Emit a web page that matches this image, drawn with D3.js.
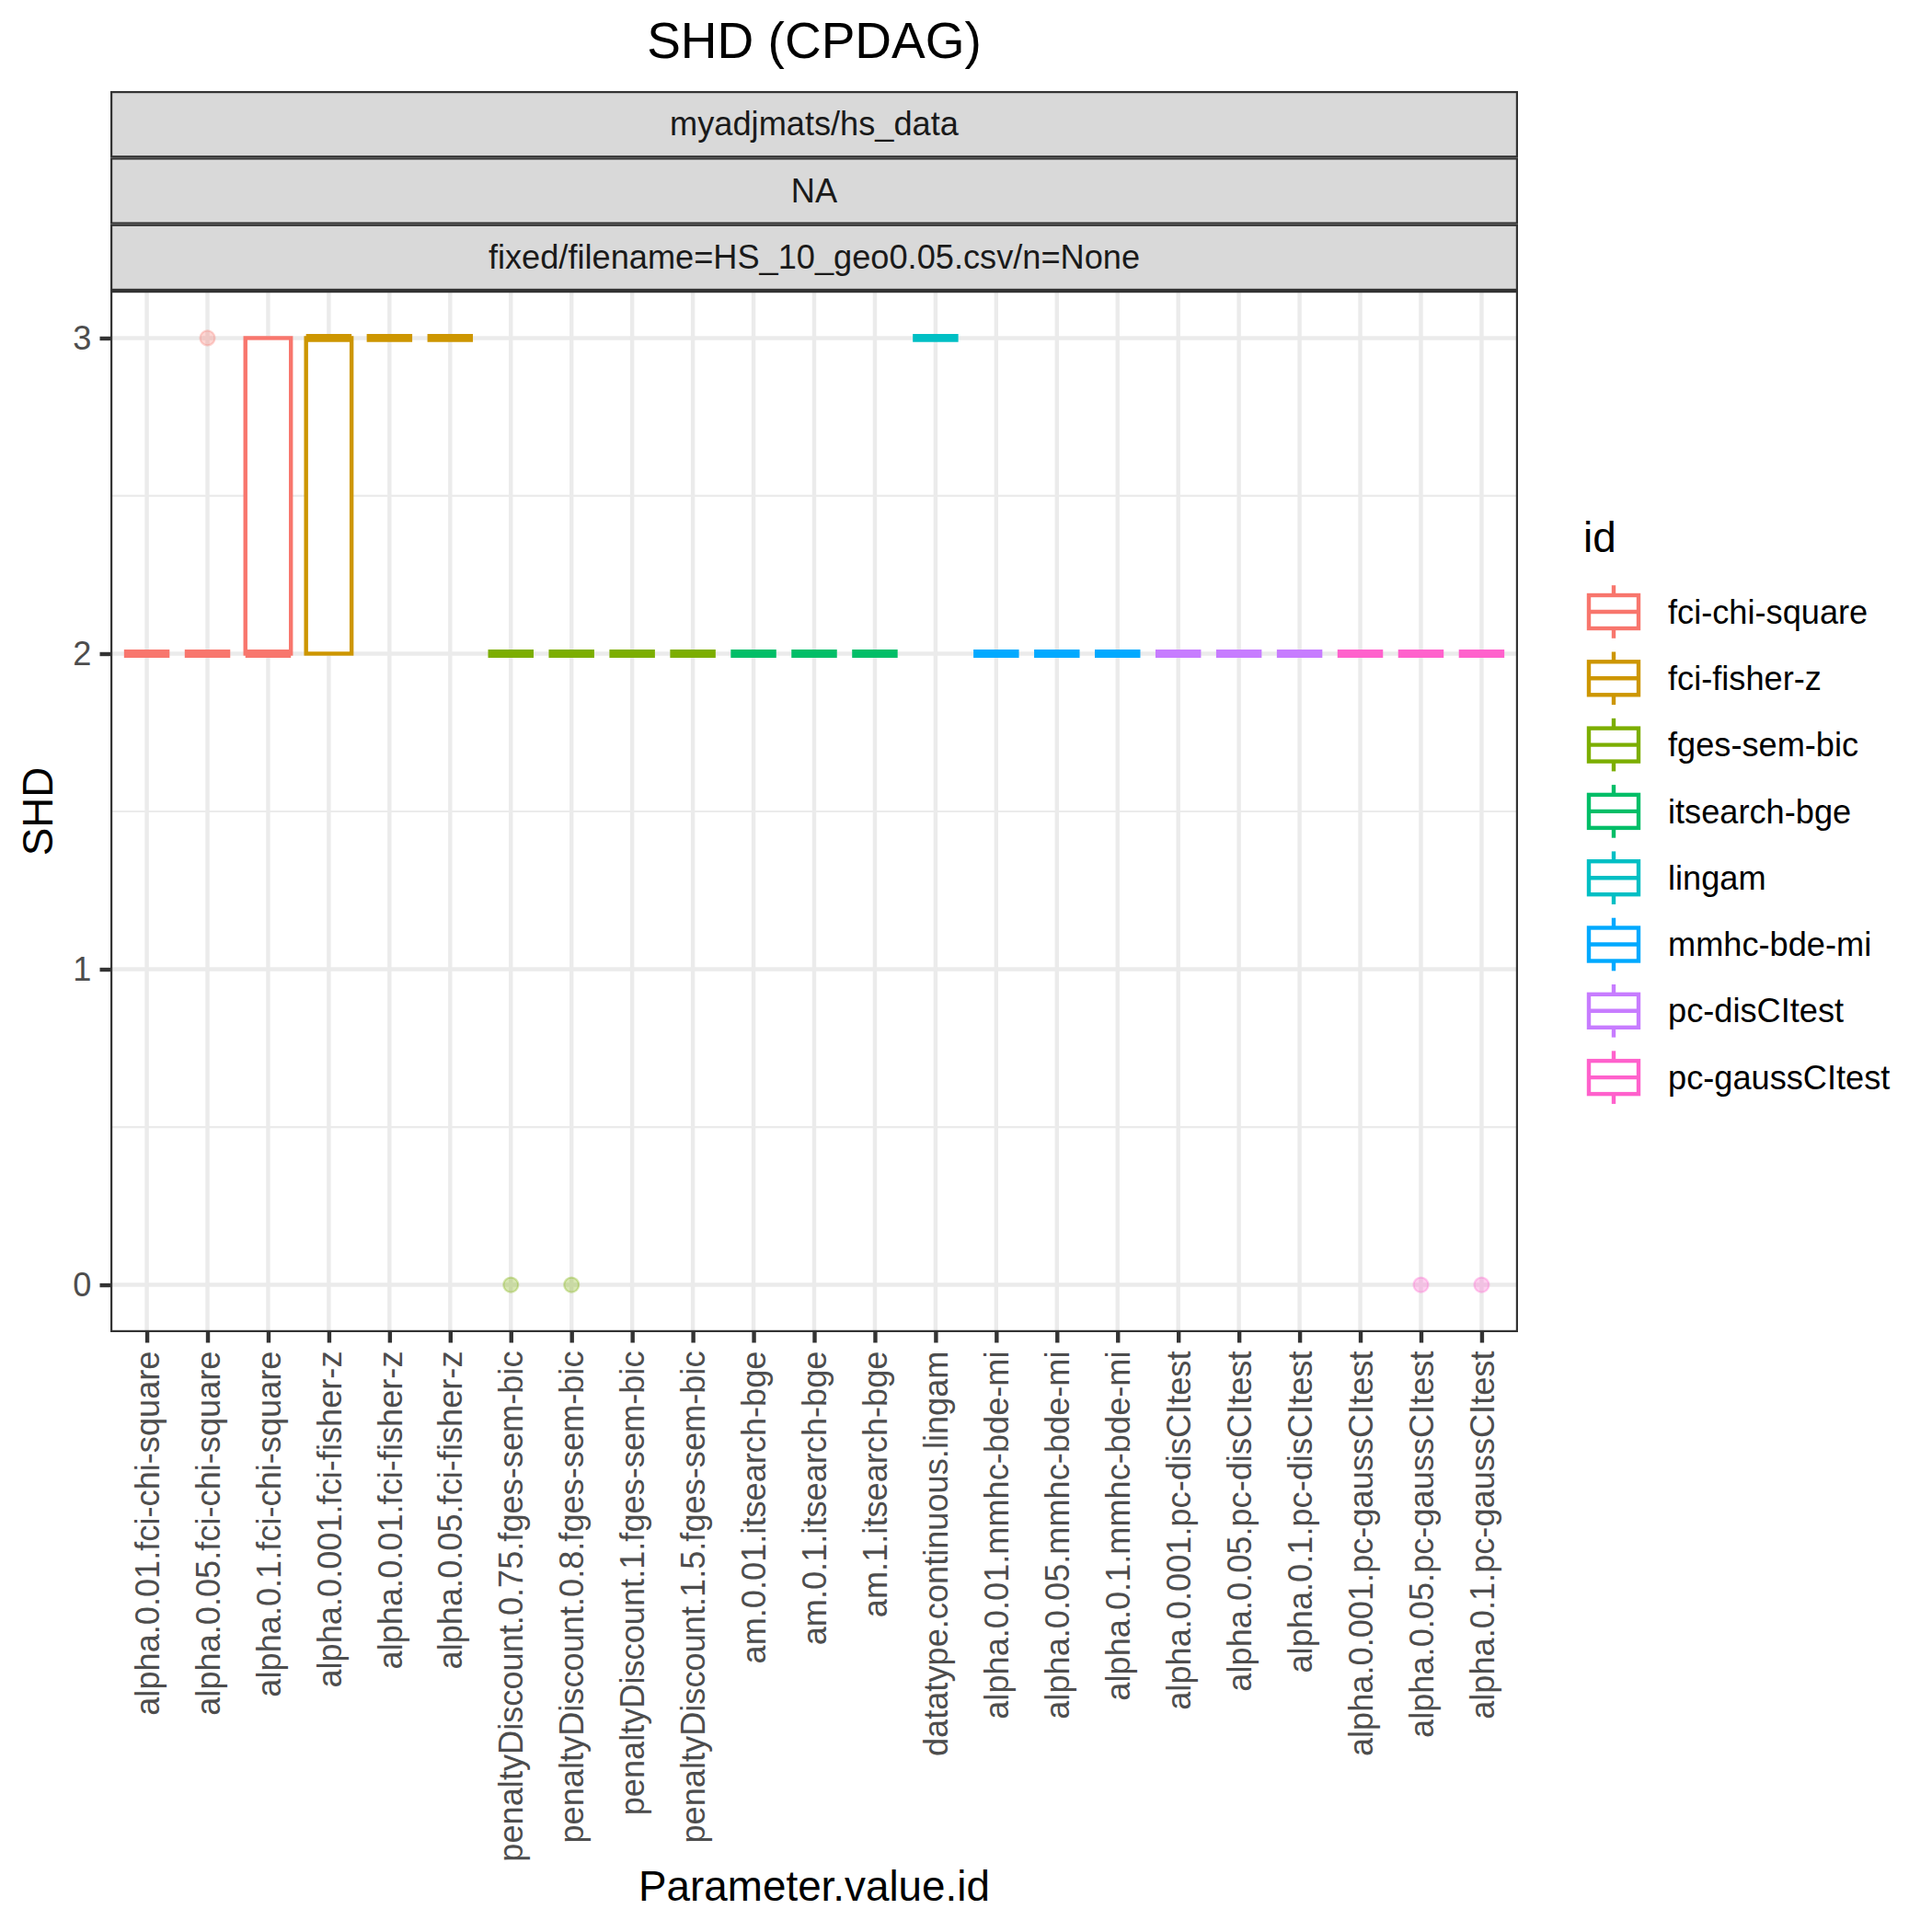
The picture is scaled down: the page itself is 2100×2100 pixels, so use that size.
<!DOCTYPE html>
<html>
<head>
<meta charset="utf-8">
<script src="https://cdn.jsdelivr.net/npm/d3@7"></script>
<style>
body { margin: 0; background: #fff; }
text { font-family: "Liberation Sans", Arial, Helvetica, sans-serif; }
</style>
</head>
<body>
<div id="chart"></div>
<script>
// Datos

const categories = [
    "alpha.0.01.fci-chi-square", "alpha.0.05.fci-chi-square", "alpha.0.1.fci-chi-square",
    "alpha.0.001.fci-fisher-z", "alpha.0.01.fci-fisher-z", "alpha.0.05.fci-fisher-z",
    "penaltyDiscount.0.75.fges-sem-bic", "penaltyDiscount.0.8.fges-sem-bic",
    "penaltyDiscount.1.fges-sem-bic", "penaltyDiscount.1.5.fges-sem-bic",
    "am.0.01.itsearch-bge", "am.0.1.itsearch-bge", "am.1.itsearch-bge",
    "datatype.continuous.lingam",
    "alpha.0.01.mmhc-bde-mi", "alpha.0.05.mmhc-bde-mi", "alpha.0.1.mmhc-bde-mi",
    "alpha.0.001.pc-disCItest", "alpha.0.05.pc-disCItest", "alpha.0.1.pc-disCItest",
    "alpha.0.001.pc-gaussCItest", "alpha.0.05.pc-gaussCItest", "alpha.0.1.pc-gaussCItest"
]
const catIds = [
    "fci-chi-square", "fci-chi-square", "fci-chi-square",
    "fci-fisher-z", "fci-fisher-z", "fci-fisher-z",
    "fges-sem-bic", "fges-sem-bic", "fges-sem-bic", "fges-sem-bic",
    "itsearch-bge", "itsearch-bge", "itsearch-bge",
    "lingam",
    "mmhc-bde-mi", "mmhc-bde-mi", "mmhc-bde-mi",
    "pc-disCItest", "pc-disCItest", "pc-disCItest",
    "pc-gaussCItest", "pc-gaussCItest", "pc-gaussCItest"
]
const whiskerLow  = [2, 2, 2, 2, 3, 3, 2, 2, 2, 2, 2, 2, 2, 3, 2, 2, 2, 2, 2, 2, 2, 2, 2]
const boxLow      = [2, 2, 2, 2, 3, 3, 2, 2, 2, 2, 2, 2, 2, 3, 2, 2, 2, 2, 2, 2, 2, 2, 2]
const medians     = [2, 2, 2, 3, 3, 3, 2, 2, 2, 2, 2, 2, 2, 3, 2, 2, 2, 2, 2, 2, 2, 2, 2]
const boxHigh     = [2, 2, 3, 3, 3, 3, 2, 2, 2, 2, 2, 2, 2, 3, 2, 2, 2, 2, 2, 2, 2, 2, 2]
const whiskerHigh = [2, 2, 3, 3, 3, 3, 2, 2, 2, 2, 2, 2, 2, 3, 2, 2, 2, 2, 2, 2, 2, 2, 2]
const outliers    = [[], [3], [], [], [], [], [0], [0], [], [], [], [], [], [], [], [], [], [], [], [], [], [0], [0]]

const idLevels = ["fci-chi-square", "fci-fisher-z", "fges-sem-bic", "itsearch-bge",
                  "lingam", "mmhc-bde-mi", "pc-disCItest", "pc-gaussCItest"]
const idColors = ["#F8766D", "#CD9600", "#7CAE00", "#00BE67", "#00BFC4", "#00A9FF", "#C77CFF", "#FF61CC"]

const yTicks = [0, 1, 2, 3]
const yMinor = [0.5, 1.5, 2.5]
const stripLabels = ["myadjmats/hs_data", "NA", "fixed/filename=HS_10_geo0.05.csv/n=None"]

// Constantes

const width = 2100
const height = 2100
const panel = {left: 120, right: 1650, top: 316, bottom: 1448}
const stripTop = 99
const stripH = (panel.top - stripTop) / 3
const lw = 4.4
const tickLen = 11.5
const tickPad = 9
const smallFont = "36.2px"
const bigFont = "45.8px"

const svg = d3.select("#chart").append("svg").attr("width", width).attr("height", height)

// Escalas

const x = d3.scalePoint().domain(categories).range([panel.left, panel.right]).padding(0.6)
const y = d3.scaleLinear().domain([-0.15, 3.15]).range([panel.bottom, panel.top])
const color = d3.scaleOrdinal().domain(idLevels).range(idColors)

// Rejilla

const gridGroup = svg.append("g").attr("id", "gridGroup")
gridGroup.selectAll("line.minor").data(yMinor).join("line")
    .attr("class", "minor")
    .attr("x1", panel.left).attr("x2", panel.right)
    .attr("y1", d => y(d)).attr("y2", d => y(d))
    .attr("stroke", "#EBEBEB").attr("stroke-width", lw / 2)
gridGroup.selectAll("line.majorY").data(yTicks).join("line")
    .attr("class", "majorY")
    .attr("x1", panel.left).attr("x2", panel.right)
    .attr("y1", d => y(d)).attr("y2", d => y(d))
    .attr("stroke", "#EBEBEB").attr("stroke-width", lw)
gridGroup.selectAll("line.majorX").data(categories).join("line")
    .attr("class", "majorX")
    .attr("x1", d => x(d)).attr("x2", d => x(d))
    .attr("y1", panel.top).attr("y2", panel.bottom)
    .attr("stroke", "#EBEBEB").attr("stroke-width", lw)

// Cajas

const boxes = categories.map((c, i) => ({
    cat: c, id: catIds[i], wl: whiskerLow[i], q1: boxLow[i], med: medians[i],
    q3: boxHigh[i], wh: whiskerHigh[i], out: outliers[i]
}))
const bw = x.step() * 0.75

const elementGroup = svg.append("g").attr("id", "elementGroup")
const boxG = elementGroup.selectAll("g.box").data(boxes).join("g").attr("class", "box")

boxG.selectAll("circle").data(d => d.out.map(v => ({v: v, cat: d.cat, id: d.id}))).join("circle")
    .attr("cx", d => x(d.cat))
    .attr("cy", d => y(d.v))
    .attr("r", 8)
    .attr("fill", d => color(d.id)).attr("fill-opacity", 0.3)
    .attr("stroke", d => color(d.id)).attr("stroke-opacity", 0.3).attr("stroke-width", 2.2)

boxG.filter(d => d.wl < d.q1).append("line")
    .attr("x1", d => x(d.cat)).attr("x2", d => x(d.cat))
    .attr("y1", d => y(d.wl)).attr("y2", d => y(d.q1))
    .attr("stroke", d => color(d.id)).attr("stroke-width", lw)
boxG.filter(d => d.wh > d.q3).append("line")
    .attr("x1", d => x(d.cat)).attr("x2", d => x(d.cat))
    .attr("y1", d => y(d.q3)).attr("y2", d => y(d.wh))
    .attr("stroke", d => color(d.id)).attr("stroke-width", lw)

boxG.append("rect")
    .attr("x", d => x(d.cat) - bw / 2)
    .attr("y", d => y(d.q3))
    .attr("width", bw)
    .attr("height", d => y(d.q1) - y(d.q3))
    .attr("fill", "white")
    .attr("stroke", d => color(d.id)).attr("stroke-width", lw)

boxG.append("line")
    .attr("x1", d => x(d.cat) - bw / 2).attr("x2", d => x(d.cat) + bw / 2)
    .attr("y1", d => y(d.med)).attr("y2", d => y(d.med))
    .attr("stroke", d => color(d.id)).attr("stroke-width", lw * 2)

// Borde del panel

svg.append("rect")
    .attr("x", panel.left + lw / 4).attr("y", panel.top + lw / 4)
    .attr("width", panel.right - panel.left - lw / 2)
    .attr("height", panel.bottom - panel.top - lw / 2)
    .attr("fill", "none").attr("stroke", "#333333").attr("stroke-width", lw / 2)

// Tiras

const stripGroup = svg.append("g").attr("id", "stripGroup")
stripGroup.selectAll("rect").data(stripLabels).join("rect")
    .attr("x", panel.left + lw / 4)
    .attr("y", (d, i) => stripTop + i * stripH + lw / 4)
    .attr("width", panel.right - panel.left - lw / 2)
    .attr("height", stripH - lw / 2)
    .attr("fill", "#D9D9D9").attr("stroke", "#333333").attr("stroke-width", lw / 2)
stripGroup.selectAll("text").data(stripLabels).join("text")
    .attr("x", (panel.left + panel.right) / 2)
    .attr("y", (d, i) => stripTop + (i + 0.5) * stripH + 12)
    .attr("text-anchor", "middle")
    .style("font-size", smallFont)
    .attr("fill", "#1A1A1A")
    .text(d => d)

// Ejes

const yAxis = d3.axisLeft(y).tickValues(yTicks).tickSize(tickLen).tickPadding(tickPad).tickFormat(d3.format("d"))
const xAxis = d3.axisBottom(x).tickSize(tickLen).tickPadding(tickPad)

const yAxisGroup = svg.append("g").attr("id", "yAxisGroup").attr("transform", `translate(${panel.left},0)`).call(yAxis)
const xAxisGroup = svg.append("g").attr("id", "xAxisGroup").attr("transform", `translate(0,${panel.bottom})`).call(xAxis)

for (const g of [yAxisGroup, xAxisGroup]) {
    g.select(".domain").remove()
    g.selectAll(".tick line").attr("stroke", "#333333").attr("stroke-width", lw)
    g.selectAll(".tick text").attr("fill", "#4D4D4D")
        .style("font-size", smallFont)
        .style("font-family", '"Liberation Sans", Arial, Helvetica, sans-serif')
}
xAxisGroup.selectAll(".tick text")
    .attr("transform", "rotate(-90)")
    .attr("x", -(tickLen + tickPad))
    .attr("y", 0)
    .attr("dy", "0.35em")
    .style("text-anchor", "end")

// Títulos

svg.append("text")
    .attr("x", (panel.left + panel.right) / 2)
    .attr("y", 63)
    .attr("text-anchor", "middle")
    .style("font-size", "55px")
    .text("SHD (CPDAG)")

svg.append("text")
    .attr("x", (panel.left + panel.right) / 2)
    .attr("y", 2066)
    .attr("text-anchor", "middle")
    .style("font-size", bigFont)
    .text("Parameter.value.id")

svg.append("text")
    .attr("transform", `translate(57,${(panel.top + panel.bottom) / 2}) rotate(-90)`)
    .attr("text-anchor", "middle")
    .style("font-size", bigFont)
    .text("SHD")

// Leyenda

const key = 72
const legendX = 1718
const legendY0 = 665 - key / 2
const legendStep = 72.3
const legend = svg.append("g").attr("id", "legend")

legend.append("text")
    .attr("x", 1721).attr("y", 600)
    .style("font-size", bigFont)
    .text("id")

const keyG = legend.selectAll("g.key").data(idLevels).join("g")
    .attr("class", "key")
    .attr("transform", (d, i) => `translate(${legendX},${legendY0 + i * legendStep})`)

keyG.append("line")
    .attr("x1", key / 2).attr("x2", key / 2).attr("y1", key * 0.1).attr("y2", key * 0.25)
    .attr("stroke", d => color(d)).attr("stroke-width", lw)
keyG.append("line")
    .attr("x1", key / 2).attr("x2", key / 2).attr("y1", key * 0.75).attr("y2", key * 0.9)
    .attr("stroke", d => color(d)).attr("stroke-width", lw)
keyG.append("rect")
    .attr("x", key * 0.125).attr("y", key * 0.25).attr("width", key * 0.75).attr("height", key * 0.5)
    .attr("fill", "white").attr("stroke", d => color(d)).attr("stroke-width", lw)
keyG.append("line")
    .attr("x1", key * 0.125).attr("x2", key * 0.875).attr("y1", key / 2).attr("y2", key / 2)
    .attr("stroke", d => color(d)).attr("stroke-width", lw)
keyG.append("text")
    .attr("x", key + 23).attr("y", key / 2)
    .attr("dy", "0.35em")
    .style("font-size", smallFont)
    .text(d => d)
</script>
</body>
</html>
